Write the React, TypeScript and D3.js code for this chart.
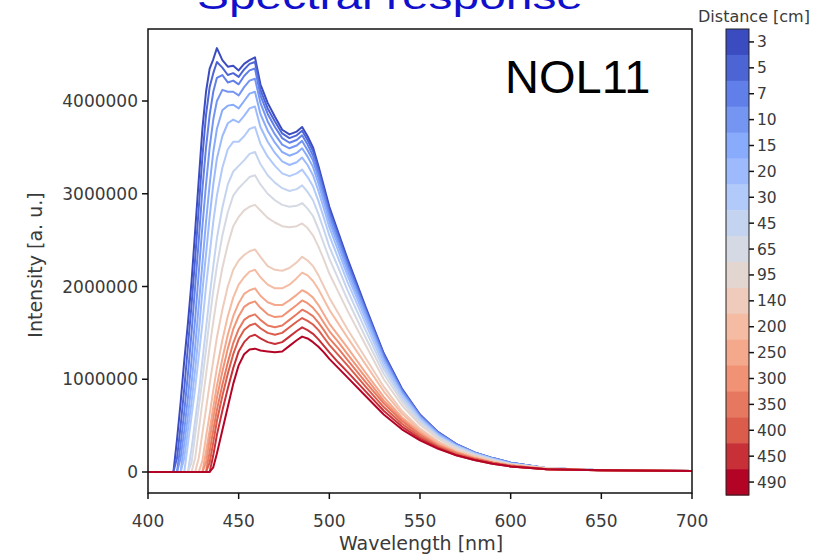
import React from 'react';
import * as d3 from 'd3';

// Wavelength grid [nm]
const wavelengths = [400, 410, 414, 416, 418, 420, 422, 424, 426, 428, 430, 432, 434, 436, 438, 441, 444, 447, 450, 453, 456, 459, 462, 466, 470, 474, 478, 482, 485, 488, 491, 494, 497, 500, 505, 510, 520, 530, 540, 550, 560, 570, 580, 590, 600, 620, 650, 700];

// Distances [cm]
const distances = [3, 5, 7, 10, 15, 20, 30, 45, 65, 95, 140, 200, 250, 300, 350, 400, 450, 490];

// Intensities in millions (a. u.)
const spec3 = [0,0,0,0.35,0.75,1.2,1.6,2.05,2.6,3.15,3.7,4.1,4.35,4.45,4.57,4.44,4.37,4.38,4.33,4.40,4.44,4.47,4.18,3.98,3.83,3.69,3.64,3.67,3.72,3.62,3.50,3.30,3.08,2.86,2.58,2.30,1.78,1.28,0.90,0.62,0.43,0.30,0.21,0.15,0.10,0.04,0.02,0.01];
const spec5 = [0,0,0,0.15,0.5,0.9,1.35,1.8,2.3,2.85,3.4,3.85,4.15,4.3,4.42,4.36,4.28,4.30,4.26,4.34,4.40,4.42,4.12,3.92,3.78,3.65,3.60,3.63,3.68,3.58,3.46,3.26,3.04,2.82,2.55,2.27,1.76,1.27,0.89,0.61,0.43,0.30,0.21,0.15,0.10,0.04,0.02,0.01];
const spec7 = [0,0,0,0,0.3,0.65,1.05,1.5,2.0,2.5,3.05,3.5,3.85,4.1,4.25,4.28,4.20,4.22,4.18,4.27,4.33,4.35,4.06,3.86,3.72,3.60,3.55,3.58,3.63,3.53,3.41,3.22,3.00,2.79,2.52,2.24,1.74,1.25,0.88,0.61,0.42,0.30,0.21,0.15,0.10,0.04,0.02,0.01];
const spec10 = [0,0,0,0,0.15,0.45,0.8,1.2,1.65,2.15,2.65,3.1,3.5,3.8,4.0,4.12,4.10,4.10,4.06,4.15,4.22,4.24,3.98,3.78,3.64,3.53,3.49,3.52,3.57,3.47,3.36,3.17,2.96,2.75,2.48,2.21,1.72,1.23,0.87,0.60,0.42,0.29,0.21,0.15,0.10,0.04,0.02,0.01];
const spec15 = [0,0,0,0,0,0.3,0.6,0.95,1.35,1.8,2.25,2.7,3.1,3.45,3.7,3.9,3.95,3.96,3.92,4.00,4.08,4.10,3.86,3.68,3.55,3.45,3.41,3.44,3.49,3.40,3.29,3.11,2.91,2.70,2.44,2.17,1.69,1.21,0.85,0.59,0.41,0.29,0.20,0.14,0.09,0.04,0.02,0.01];
const spec20 = [0,0,0,0,0,0.15,0.45,0.75,1.1,1.5,1.95,2.35,2.75,3.1,3.38,3.62,3.76,3.80,3.77,3.84,3.92,3.94,3.72,3.56,3.44,3.35,3.31,3.34,3.39,3.31,3.20,3.03,2.84,2.64,2.38,2.12,1.65,1.19,0.84,0.58,0.40,0.28,0.20,0.14,0.09,0.04,0.02,0.01];
const spec30 = [0,0,0,0,0,0,0.3,0.6,0.9,1.25,1.6,2.0,2.35,2.7,2.98,3.28,3.48,3.56,3.56,3.62,3.70,3.72,3.54,3.40,3.30,3.22,3.19,3.22,3.26,3.18,3.08,2.92,2.74,2.55,2.30,2.05,1.60,1.15,0.82,0.57,0.39,0.28,0.20,0.14,0.09,0.04,0.02,0.01];
const spec45 = [0,0,0,0,0,0,0,0.25,0.55,0.85,1.2,1.55,1.9,2.22,2.52,2.85,3.1,3.24,3.30,3.36,3.43,3.45,3.32,3.20,3.12,3.06,3.03,3.05,3.09,3.02,2.93,2.78,2.61,2.43,2.20,1.96,1.53,1.11,0.79,0.55,0.38,0.27,0.19,0.13,0.09,0.04,0.02,0.01];
const spec65 = [0,0,0,0,0,0,0,0.1,0.4,0.7,1.0,1.32,1.65,1.95,2.22,2.55,2.8,2.98,3.06,3.12,3.18,3.20,3.10,3.00,2.93,2.88,2.86,2.87,2.90,2.84,2.76,2.62,2.46,2.30,2.08,1.86,1.45,1.06,0.76,0.53,0.37,0.26,0.18,0.13,0.08,0.04,0.02,0.01];
const spec95 = [0,0,0,0,0,0,0,0,0.15,0.45,0.75,1.05,1.35,1.62,1.88,2.2,2.45,2.65,2.75,2.82,2.86,2.88,2.82,2.74,2.69,2.65,2.64,2.65,2.68,2.63,2.55,2.43,2.29,2.14,1.94,1.74,1.37,1.00,0.72,0.51,0.36,0.25,0.18,0.12,0.08,0.04,0.02,0.01];
const spec140 = [0,0,0,0,0,0,0,0,0,0.15,0.42,0.68,0.95,1.2,1.45,1.75,2.0,2.18,2.28,2.34,2.38,2.40,2.32,2.22,2.18,2.17,2.20,2.26,2.32,2.28,2.22,2.12,2.00,1.88,1.71,1.54,1.23,0.92,0.66,0.47,0.33,0.23,0.17,0.12,0.08,0.04,0.02,0.01];
const spec200 = [0,0,0,0,0,0,0,0,0,0,0.12,0.38,0.62,0.88,1.12,1.42,1.68,1.88,2.02,2.10,2.16,2.18,2.10,2.02,1.98,1.98,2.02,2.09,2.15,2.12,2.06,1.97,1.86,1.75,1.60,1.45,1.16,0.87,0.63,0.45,0.32,0.22,0.16,0.11,0.07,0.03,0.02,0.01];
const spec250 = [0,0,0,0,0,0,0,0,0,0,0,0.22,0.45,0.7,0.93,1.22,1.48,1.68,1.82,1.92,1.96,1.98,1.90,1.83,1.80,1.80,1.85,1.91,1.96,1.93,1.88,1.80,1.70,1.60,1.47,1.34,1.07,0.81,0.59,0.43,0.30,0.21,0.15,0.10,0.07,0.03,0.02,0.01];
const spec300 = [0,0,0,0,0,0,0,0,0,0,0,0.1,0.35,0.58,0.8,1.08,1.33,1.54,1.68,1.78,1.82,1.84,1.77,1.70,1.67,1.68,1.74,1.80,1.85,1.82,1.77,1.70,1.61,1.52,1.40,1.27,1.02,0.77,0.57,0.41,0.29,0.21,0.15,0.10,0.07,0.03,0.02,0.01];
const spec350 = [0,0,0,0,0,0,0,0,0,0,0,0,0.22,0.45,0.67,0.94,1.18,1.39,1.54,1.64,1.68,1.70,1.64,1.58,1.56,1.58,1.64,1.70,1.75,1.72,1.68,1.61,1.53,1.44,1.33,1.21,0.97,0.74,0.55,0.40,0.28,0.20,0.14,0.10,0.07,0.03,0.02,0.01];
const spec400 = [0,0,0,0,0,0,0,0,0,0,0,0,0.1,0.32,0.55,0.82,1.06,1.27,1.43,1.53,1.58,1.60,1.55,1.50,1.48,1.50,1.56,1.62,1.66,1.63,1.59,1.53,1.45,1.37,1.26,1.15,0.92,0.70,0.52,0.38,0.27,0.19,0.14,0.10,0.06,0.03,0.02,0.01];
const spec450 = [0,0,0,0,0,0,0,0,0,0,0,0,0,0.18,0.4,0.66,0.9,1.12,1.30,1.40,1.46,1.48,1.44,1.40,1.38,1.40,1.46,1.52,1.56,1.53,1.49,1.43,1.36,1.29,1.18,1.08,0.87,0.66,0.49,0.36,0.26,0.18,0.13,0.09,0.06,0.03,0.02,0.01];
const spec490 = [0,0,0,0,0,0,0,0,0,0,0,0,0,0.05,0.2,0.45,0.7,0.95,1.15,1.27,1.32,1.33,1.31,1.30,1.29,1.30,1.36,1.42,1.46,1.44,1.40,1.35,1.29,1.22,1.12,1.02,0.82,0.62,0.46,0.34,0.25,0.18,0.13,0.09,0.06,0.03,0.02,0.01];

const spectra = [spec3, spec5, spec7, spec10, spec15, spec20, spec30, spec45, spec65, spec95, spec140, spec200, spec250, spec300, spec350, spec400, spec450, spec490];

const xTicks = [400, 450, 500, 550, 600, 650, 700];
const yTicks = [0, 1, 2, 3, 4]; // millions

const coolwarmStops = ['#3b4cc0', '#6282ea', '#8db0fe', '#b9d0f9', '#dddcdc', '#f5c4ac', '#f4987a', '#de614d', '#b40426'];

export default function App() {
  const W = 813, H = 555;
  const left = 148, right = 692, top = 29, bottom = 493;
  const x = d3.scaleLinear().domain([400, 700]).range([left, right]);
  const y = d3.scaleLinear().domain([0, 4]).range([472, 101]);
  const cmap = d3.piecewise(d3.interpolateRgb, coolwarmStops);
  const color = (i: number) => cmap(i / (distances.length - 1));
  const line = d3.line<number>().x((_, i) => x(wavelengths[i])).y((d) => y(d));
  const cb = d3.scaleBand<number>().domain(distances).range([29, 495]);
  const cbX = 726, cbW = 23;
  const tickFont = 'DejaVu Sans, sans-serif';
  const txt = '#3a3a3a';

  return (
    <svg width={W} height={H} style={{ position: 'absolute', left: 0, top: 0, background: '#fff' }}>
      <text x={390} y={9} textAnchor="middle" fontFamily="Liberation Sans, Arial, sans-serif" fontSize={37} fill="#1010cc" textLength={386} lengthAdjust="spacingAndGlyphs">Spectral response</text>

      <defs>
        <clipPath id="plotclip"><rect x={left} y={top} width={right - left} height={bottom - top} /></clipPath>
      </defs>
      <g clipPath="url(#plotclip)">
        {spectra.map((s, i) => (
          <path key={i} d={line(s) || ''} fill="none" stroke={color(i)} strokeWidth={2} strokeLinejoin="round" />
        ))}
      </g>
      <rect x={left} y={top} width={right - left} height={bottom - top} fill="none" stroke="#111" strokeWidth={1.5} />

      {xTicks.map((t) => (
        <g key={t}>
          <line x1={x(t)} x2={x(t)} y1={bottom} y2={bottom + 6} stroke="#111" strokeWidth={1.5} />
          <text x={x(t)} y={527} textAnchor="middle" fontFamily={tickFont} fontSize={17} fill={txt}>{t}</text>
        </g>
      ))}
      {yTicks.map((t) => (
        <g key={t}>
          <line x1={left - 6} x2={left} y1={y(t)} y2={y(t)} stroke="#111" strokeWidth={1.5} />
          <text x={left - 10} y={y(t) + 6} textAnchor="end" fontFamily={tickFont} fontSize={17} fill={txt}>{d3.format('d')(t * 1e6)}</text>
        </g>
      ))}
      <text x={421} y={550} textAnchor="middle" fontFamily={tickFont} fontSize={19} fill={txt}>Wavelength [nm]</text>
      <text transform={`translate(42,265) rotate(-90)`} textAnchor="middle" fontFamily={tickFont} fontSize={19} fill={txt}>Intensity [a. u.]</text>

      <text x={505} y={93} fontFamily="Liberation Sans, Arial, sans-serif" fontSize={47} fill="#000">NOL11</text>

      {distances.map((d, i) => (
        <g key={d}>
          <rect x={cbX} y={cb(d)!} width={cbW} height={cb.bandwidth() + 0.5} fill={color(i)} />
          <line x1={cbX + cbW} x2={cbX + cbW + 5} y1={cb(d)! + cb.bandwidth() / 2} y2={cb(d)! + cb.bandwidth() / 2} stroke="#111" strokeWidth={1.5} />
          <text x={cbX + cbW + 8} y={cb(d)! + cb.bandwidth() / 2 + 5.5} fontFamily={tickFont} fontSize={15.5} fill={txt}>{d}</text>
        </g>
      ))}
      <rect x={cbX} y={29} width={cbW} height={466} fill="none" stroke="#222" strokeWidth={1} />
      <text x={754} y={22} textAnchor="middle" fontFamily={tickFont} fontSize={16} fill={txt}>Distance [cm]</text>
    </svg>
  );
}
